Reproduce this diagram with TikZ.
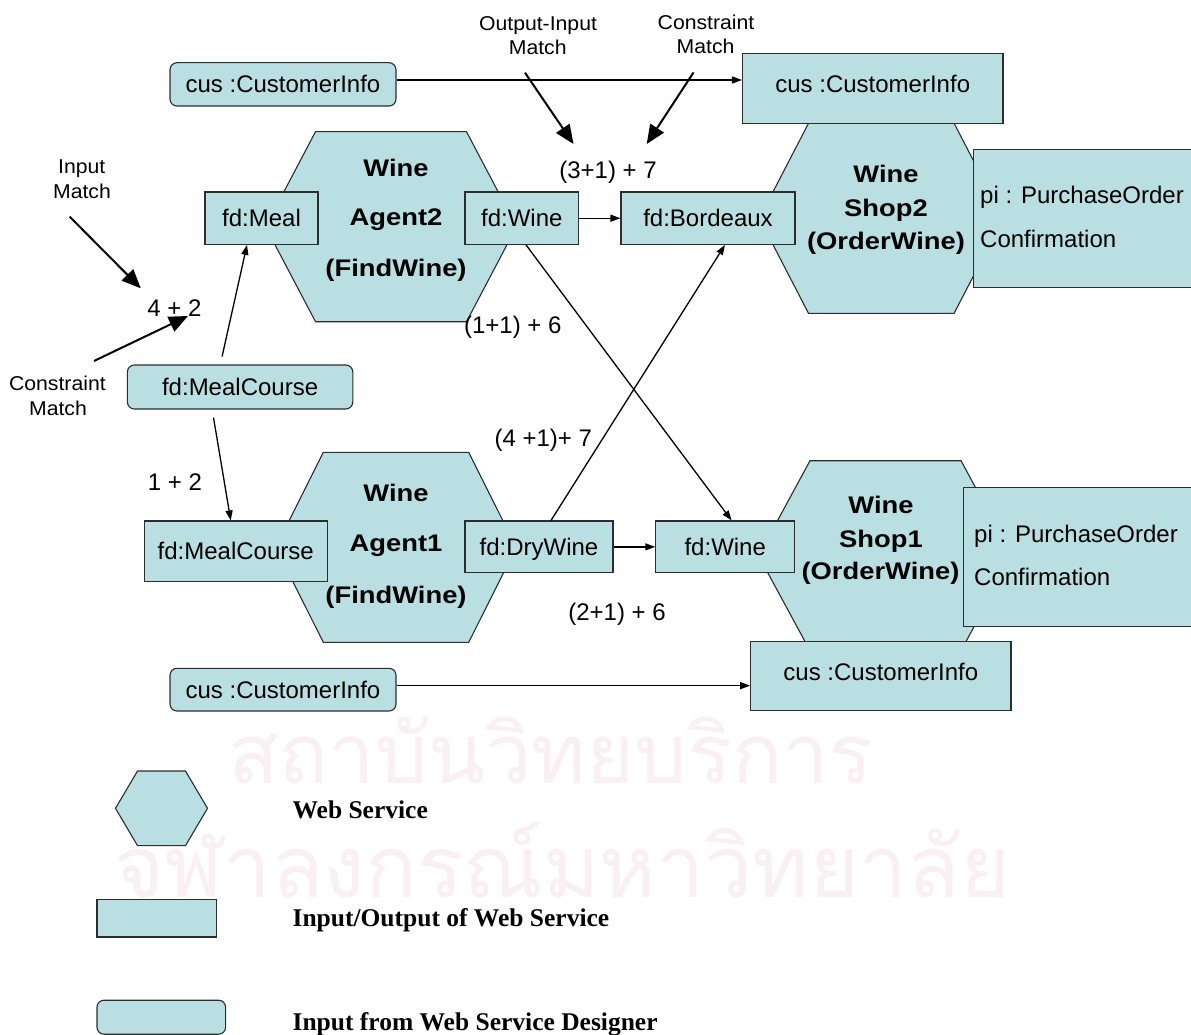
\documentclass[tikz,border=0pt]{standalone}
\usepackage{fontspec}
\setmainfont{Liberation Sans}
\newfontfamily\hexfont{Liberation Sans}[FakeStretch=1.14]
\newfontfamily\notefont{Liberation Sans}[FakeStretch=1.06]
\newfontfamily\legendfont{Liberation Serif}
\newfontfamily\thaifont[Script=Thai]{Loma}
\usetikzlibrary{arrows.meta}

\definecolor{boxfill}{RGB}{185,223,226}
\definecolor{boxline}{RGB}{45,45,45}
\definecolor{wmark}{RGB}{250,240,244}

% flat-topped hexagon: name, centre x, centre y, half width, half top width, half height
\newcommand\wshex[6]{%
  \path[hexfill] ({#2-#4},#3) -- ({#2-#5},{#3-#6}) -- ({#2+#5},{#3-#6})
    -- ({#2+#4},#3) -- ({#2+#5},{#3+#6}) -- ({#2-#5},{#3+#6}) -- cycle;
  \coordinate (#1) at (#2,#3);}

\tikzset{
  iobox/.style={draw=boxline, fill=boxfill, line width=1.1pt, inner sep=0pt,
    font=\fontsize{24}{28}\selectfont, text height=17.2pt, text depth=0pt},
  designbox/.style={iobox, rounded corners=7pt},
  hexfill/.style={draw=boxline, fill=boxfill, line width=1.1pt},
  conn/.style={draw=black, line width=1.3pt, -{Triangle[length=10pt,width=7pt]}},
  note/.style={draw=black, line width=2pt, -{Triangle[length=19pt,width=16pt]}},
  lbl/.style={font=\notefont\fontsize{20}{24}\selectfont, anchor=base, inner sep=0pt},
  score/.style={font=\fontsize{24}{28}\selectfont, anchor=base, inner sep=0pt},
  hextext/.style={font=\hexfont\bfseries\fontsize{24}{28}\selectfont, anchor=base, inner sep=0pt},
  pitext/.style={font=\fontsize{24}{28}\selectfont, anchor=base west, inner sep=0pt},
  legendtext/.style={font=\legendfont\bfseries\fontsize{25.5}{30}\selectfont, anchor=base west, inner sep=0pt},
  wm/.style={text=wmark, anchor=base west, inner sep=0pt},
}

\begin{document}
\begin{tikzpicture}[x=1pt,y=-1pt]
\fill[white] (0,0) rectangle (1191,1035);
\useasboundingbox (0,0) rectangle (1191,1035);

% background stamp text
\node[wm] (wm1) at (228,783) {\resizebox{645pt}{!}{\thaifont สถาบันวิทยบริการ}};
\node[wm] (wm2) at (114,897) {\resizebox{896pt}{!}{\thaifont จุฬาลงกรณ์มหาวิทยาลัย}};

% web services
\wshex{agent2}{391}{226.7}{125.5}{75.5}{95}
\wshex{agent1}{396}{547.3}{120.3}{72.7}{95}
\wshex{shop2}{881.3}{218.3}{122}{72.8}{95}
\wshex{shop1}{885.5}{555.7}{127}{75.5}{95}

\node[hextext] (a2l1) at (396,176.5) {Wine};
\node[hextext] (a2l2) at (396,225.5) {Agent2};
\node[hextext] (a2l3) at (396,276) {(FindWine)};
\node[hextext] (a1l1) at (396,501.7) {Wine};
\node[hextext] (a1l2) at (396,551.7) {Agent1};
\node[hextext] (a1l3) at (396,603.5) {(FindWine)};
\node[hextext] (s2l1) at (886,182.7) {Wine};
\node[hextext] (s2l2) at (886,216.7) {Shop2};
\node[hextext] (s2l3) at (886,249.3) {(OrderWine)};
\node[hextext] (s1l1) at (881,513.3) {Wine};
\node[hextext] (s1l2) at (881,547.3) {Shop1};
\node[hextext] (s1l3) at (880.5,579.3) {(OrderWine)};

% inputs and outputs
\node[designbox, minimum width=226pt, minimum height=43.3pt] (cusA) at (283,84.35) {cus :CustomerInfo};
\node[iobox, minimum width=260.5pt, minimum height=70pt, text depth=8pt] (cusB) at (872.75,88.3) {cus :CustomerInfo};
\node[iobox, minimum width=113pt, minimum height=52.3pt] (meal) at (261.5,218.2) {fd:Meal};
\node[iobox, minimum width=113.6pt, minimum height=52.3pt] (wineA) at (521.8,218.2) {fd:Wine};
\node[iobox, minimum width=174pt, minimum height=52.3pt] (bord) at (708,218.2) {fd:Bordeaux};
\node[iobox, minimum width=240pt, minimum height=138pt, anchor=north west] (piB) at (972.5,149) {};
\node[pitext] (piB1) at (980,203.5) {pi : PurchaseOrder};
\node[pitext] (piB2) at (980,247.5) {Confirmation};
\node[designbox, minimum width=225.4pt, minimum height=44pt] (mcR) at (240.1,387) {fd:MealCourse};
\node[iobox, minimum width=182.9pt, minimum height=60.7pt] (mcA) at (235.75,551.35) {fd:MealCourse};
\node[iobox, minimum width=148pt, minimum height=51.7pt] (dry) at (539,546.85) {fd:DryWine};
\node[iobox, minimum width=138.9pt, minimum height=51.7pt] (wineS) at (725.25,546.85) {fd:Wine};
\node[iobox, minimum width=240pt, minimum height=139pt, anchor=north west] (piA) at (963,487) {};
\node[pitext] (piA1) at (974,542.3) {pi : PurchaseOrder};
\node[pitext] (piA2) at (974,585) {Confirmation};
\node[iobox, minimum width=260.3pt, minimum height=69.3pt, text depth=8pt] (cusC) at (880.85,676.2) {cus :CustomerInfo};
\node[designbox, minimum width=226pt, minimum height=42.7pt] (cusD) at (283,689.65) {cus :CustomerInfo};

% data flow
\coordinate (tA) at ([yshift=4.35pt]cusA.east);
\draw[conn] (tA) -- (tA -| cusB.west);
\coordinate (tD) at ([yshift=4pt]cusD.east);
\draw[conn] (tD) -- (tD -| cusC.west);
\draw[conn] (wineA.east) -- (bord.west);
\draw[conn] (dry.east) -- (wineS.west);
\draw[conn] ([xshift=12pt]dry.north) -- ([xshift=17pt]bord.south);
\draw[conn] ([xshift=4.2pt]wineA.south) -- ([xshift=6.35pt]wineS.north);
\draw[conn] ([xshift=-18pt,yshift=8pt]mcR.north) -- ([xshift=-14.5pt]meal.south);
\draw[conn] ([xshift=-26.6pt,yshift=-8pt]mcR.south) -- ([xshift=-5pt]mcA.north);

% match annotations
\node[lbl] (oi1) at (538,30.6) {Output-Input};
\node[lbl] (oi2) at (537.7,54.3) {Match};
\node[lbl] (cm1) at (706,30) {Constraint};
\node[lbl] (cm2) at (705.6,53.3) {Match};
\node[lbl] (im1) at (81.7,174) {Input};
\node[lbl] (im2) at (82,199) {Match};
\node[lbl] (cl1) at (57.4,390) {Constraint};
\node[lbl] (cl2) at (58,415) {Match};

\coordinate (oiTail) at (525,72.7);   \coordinate (oiHead) at (573.5,144);
\coordinate (cmTail) at (693.5,72.5); \coordinate (cmHead) at (646.7,144);
\coordinate (imTail) at (69.7,216.7); \coordinate (imHead) at (140.8,288.3);
\coordinate (clTail) at (94,361);     \coordinate (clHead) at (188,316);
\draw[note] (oiTail) -- (oiHead);
\draw[note] (cmTail) -- (cmHead);
\draw[note] (imTail) -- (imHead);
\draw[note] (clTail) -- (clHead);

% scores
\node[score] (s42) at (174.4,316.7) {4 + 2};
\node[score] (s12) at (175,490) {1 + 2};
\node[score] (s317) at (608,178.3) {(3+1) + 7};
\node[score] (s116) at (512.8,333.3) {(1+1) + 6};
\node[score] (s417) at (543.3,446.7) {(4 +1)+ 7};
\node[score] (s216) at (617,620) {(2+1) + 6};

% legend
\wshex{legHex}{161.5}{808.3}{46}{24}{37.3}
\node[iobox, minimum width=119.5pt, minimum height=37.7pt] (legIO) at (156.75,918.15) {};
\node[designbox, minimum width=128.6pt, minimum height=34pt] (legDes) at (161.3,1017.2) {};
\node[legendtext] (legT1) at (292.4,818.3) {Web Service};
\node[legendtext] (legT2) at (292.4,926.7) {Input/Output of Web Service};
\node[legendtext] (legT3) at (292.4,1030) {Input from Web Service Designer};
\end{tikzpicture}
\end{document}
